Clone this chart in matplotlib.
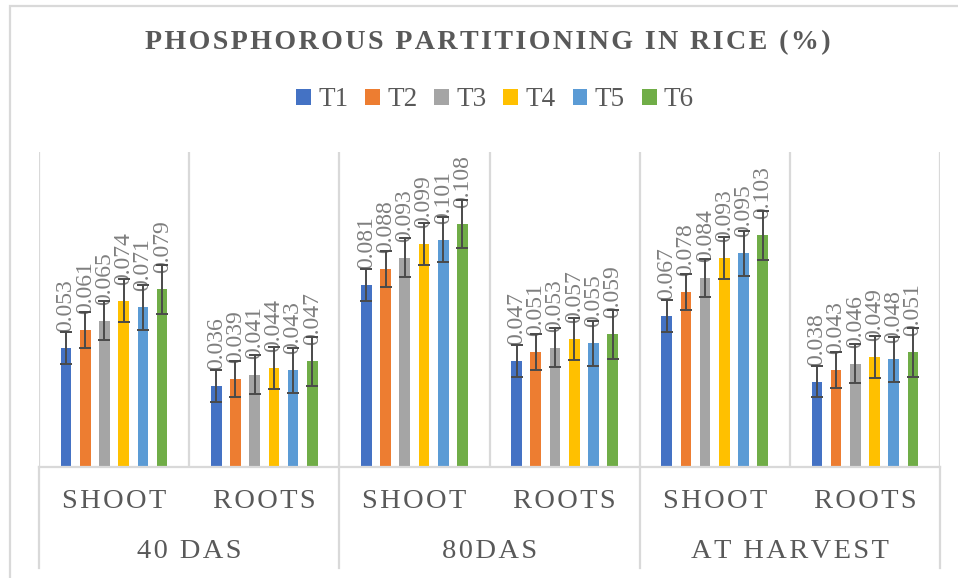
import matplotlib
matplotlib.use("Agg")
import matplotlib.pyplot as plt  # noqa: E402
import numpy as np  # noqa: E402
from matplotlib.patches import Rectangle  # noqa: E402

STAGES = ["40 DAS", "80DAS", "AT HARVEST"]
PARTS = ["SHOOT", "ROOTS"]
SERIES = ["T1", "T2", "T3", "T4", "T5", "T6"]

# one value per category: 40 DAS shoot/roots, 80DAS shoot/roots, harvest shoot/roots
T1 = [0.053, 0.036, 0.081, 0.047, 0.067, 0.038]
T2 = [0.061, 0.039, 0.088, 0.051, 0.078, 0.043]
T3 = [0.065, 0.041, 0.093, 0.053, 0.084, 0.046]
T4 = [0.074, 0.044, 0.099, 0.057, 0.093, 0.049]
T5 = [0.071, 0.043, 0.101, 0.055, 0.095, 0.048]
T6 = [0.079, 0.047, 0.108, 0.059, 0.103, 0.051]
# error bar half-lengths (constant per series)
ERR = [0.0071, 0.0080, 0.0086, 0.0094, 0.0100, 0.0108]

COLORS = ["#4472c4", "#ed7d31", "#a5a5a5", "#ffc000", "#5b9bd5", "#70ad47"]
TEXT = "#595959"
LABEL = "#7f7f7f"
GRID = "#d9d9d9"
FONT = "Liberation Serif"

W, H = 958, 578


def spaced(s, gap="\u200a"):
    return gap.join(s)


fig = plt.figure(figsize=(W / 100, H / 100), dpi=100, facecolor="white")

# chart border (only top/left visible in the crop)
fig.patches.append(Rectangle((10 / W, -0.05), 1.2, 1 - 6 / H + 0.05,
                             transform=fig.transFigure, fill=False,
                             edgecolor=GRID, linewidth=1.6))

left, right, top, bottom = 39, 940, 152, 467
ax = fig.add_axes([left / W, 1 - bottom / H, (right - left) / W, (bottom - top) / H])
ax.set_xlim(0, 6)
ax.set_ylim(0, 0.14)
for side in ("top", "right", "left"):
    ax.spines[side].set_visible(False)
ax.spines["bottom"].set_color(GRID)
ax.spines["bottom"].set_linewidth(1.6)
ax.set_xticks([])
ax.set_yticks([])

for x in range(7):
    ax.axvline(x, color=GRID, linewidth=1.6, zorder=0)
# group separators continue down through the label area
for x in (0, 2, 4, 6):
    ax.plot([x, x], [0, -101 / (bottom - top)], color=GRID, linewidth=1.6,
            transform=ax.get_xaxis_transform(), clip_on=False)

cats = np.arange(6) + 0.5
step, width = 0.128, 0.071
handles = []
for i, (name, vals) in enumerate(zip(SERIES, [T1, T2, T3, T4, T5, T6])):
    xs = cats + (i - 2.5) * step
    bars = ax.bar(xs, vals, width=width, color=COLORS[i], zorder=2, label=name)
    handles.append(bars)
    ax.errorbar(xs, vals, yerr=ERR[i], fmt="none", ecolor="#4a4a4a",
                elinewidth=1.4, capsize=4.2, capthick=1.4, zorder=4)
    for x, v in zip(xs, vals):
        ax.annotate(f"{v:.3f}", (x, v), textcoords="offset points", xytext=(0, 11.5),
                    rotation=90, ha="center", va="bottom", color=LABEL,
                    fontsize=17, family=FONT, zorder=3)

for i, part in enumerate(PARTS * 3):
    ax.text(cats[i], 1 - (501 - top) / (bottom - top), spaced(part), ha="center",
            va="center", transform=ax.get_xaxis_transform(), color=TEXT,
            fontsize=20.5, family=FONT)
for j, stage in enumerate(STAGES):
    ax.text(2 * j + 1, 1 - (551 - top) / (bottom - top), spaced(stage), ha="center",
            va="center", transform=ax.get_xaxis_transform(), color=TEXT,
            fontsize=20.5, family=FONT)

fig.text(488 / W, 1 - 43 / H, spaced("PHOSPHOROUS PARTITIONING IN RICE (%)"),
         ha="center", va="center", color=TEXT, fontsize=20.2, fontweight="bold",
         family=FONT)

fig.legend(handles=handles, loc="center", bbox_to_anchor=(495 / W, 1 - 100 / H),
           ncol=6, frameon=False, prop={"family": FONT, "size": 19.5},
           labelcolor=TEXT, handlelength=0.55, handleheight=0.55,
           handletextpad=0.27, columnspacing=0.62, borderpad=0)

fig.savefig("out.png", dpi=100, facecolor="white")
